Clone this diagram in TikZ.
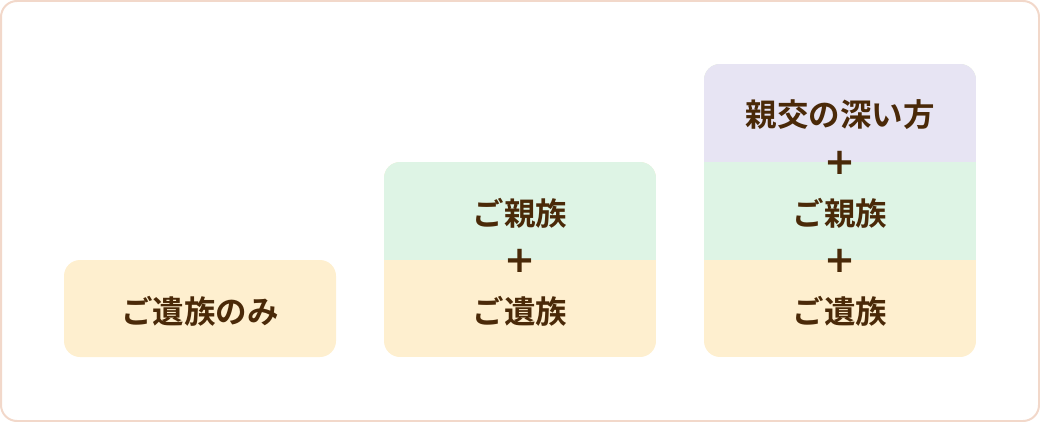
\documentclass[tikz,border=0pt]{standalone}
\usepackage{fontspec}
\newfontfamily\jp{Noto Sans CJK JP}[BoldFont={* Bold}]
\newfontfamily\dv{DejaVu Sans}
\definecolor{frame}{HTML}{F2D8CA}
\definecolor{cream}{HTML}{FEEFCF}
\definecolor{mint}{HTML}{DEF4E5}
\definecolor{lav}{HTML}{E7E4F3}
\definecolor{ink}{HTML}{4A2908}
\tikzset{
  lbl/.style={font=\jp\bfseries\fontsize{31.5}{34}\selectfont, text=ink, inner sep=0pt},
  plus/.style={font=\dv\bfseries\fontsize{37}{40}\selectfont, text=ink, inner sep=0pt},
}
\begin{document}
\begin{tikzpicture}[x=1pt,y=-1pt]
\useasboundingbox (0,0) rectangle (1040,422);
\draw[frame, line width=2pt, rounded corners=16pt] (1,1) rectangle (1039,421);
% box 1
\fill[cream, rounded corners=16pt] (64,260) rectangle (336,357);
% box 2
\begin{scope}
\clip[rounded corners=16pt] (384,162) rectangle (656,357);
\fill[cream] (384,162) rectangle (656,357);
\fill[mint] (384,162) rectangle (656,260);
\end{scope}
% box 3
\begin{scope}
\clip[rounded corners=16pt] (704,64) rectangle (976,357);
\fill[cream] (704,64) rectangle (976,357);
\fill[mint] (704,64) rectangle (976,260);
\fill[lav] (704,64) rectangle (976,162);
\end{scope}
\node[lbl] (a1) at (200,311) {ご遺族のみ};
\node[lbl] (b2) at (520,213) {ご親族};
\node[plus] (bp) at (520,261) {+};
\node[lbl] (b1) at (520,311) {ご遺族};
\node[lbl] (c3) at (840,115) {親交の深い方};
\node[plus] (cp2) at (840,163) {+};
\node[lbl] (c2) at (840,213) {ご親族};
\node[plus] (cp1) at (840,261) {+};
\node[lbl] (c1) at (840,311) {ご遺族};
\end{tikzpicture}
\end{document}
